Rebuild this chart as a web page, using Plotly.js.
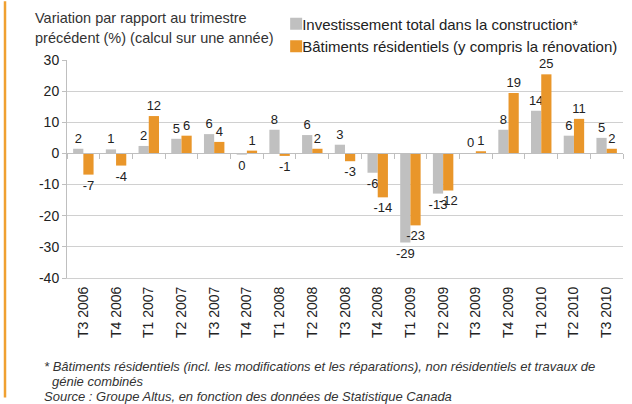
<!DOCTYPE html>
<html>
<head>
<meta charset="utf-8">
<script src="https://cdn.plot.ly/plotly-3.0.1.min.js"></script>
<style>html,body{margin:0;padding:0;background:#fff;}#chart{width:632px;height:404px;}
#chart .legendpoints{transform:translateX(14px);}</style>
</head>
<body>
<div id="chart"></div>
<script>
const categories = ['T3 2006','T4 2006','T1 2007','T2 2007','T3 2007','T4 2007','T1 2008','T2 2008','T3 2008','T4 2008','T1 2009','T2 2009','T3 2009','T4 2009','T1 2010','T2 2010','T3 2010'];
const totalInvestment = [1.5, 1.3, 2.4, 4.7, 6.2, -0.4, 7.6, 5.9, 2.8, -6.2, -28.6, -12.9, 0.1, 7.6, 13.7, 5.7, 5.0];
const residential = [-6.8, -3.9, 12.0, 5.7, 3.7, 0.9, -0.8, 1.5, -2.5, -14.1, -23.1, -11.9, 0.7, 19.4, 25.4, 11.1, 1.5];
const yTickValues = [30, 20, 10, 0, -10, -20, -30, -40];
const yTickLabels = ['30', '20', '10', '0', '-10', '-20', '-30', '-40'];
const seriesNames = ['Investissement total dans la construction*', 'Bâtiments résidentiels (y compris la rénovation)'];
const titleLines = ['Variation par rapport au trimestre', 'précédent (%) (calcul sur une année)'];
const noteLines = ['* Bâtiments résidentiels (incl. les modifications et les réparations), non résidentiels et travaux de', 'génie combinés', 'Source : Groupe Altus, en fonction des données de Statistique Canada'];

function roundLabel(v) { const r = Math.round(Math.abs(v)); return (v < 0 && r !== 0 ? '-' : '') + r; }

const labelFont = {family: 'Liberation Sans, Arial, sans-serif', size: 13, color: '#222'};
const idx = categories.map((c, i) => i);
const traces = [
  {type: 'bar', name: seriesNames[0], x: categories, y: totalInvestment,
   marker: {color: '#C0C0C0'}, text: totalInvestment.map(roundLabel), textposition: 'outside',
   textfont: labelFont, constraintext: 'none', cliponaxis: false, hoverinfo: 'x+y'},
  {type: 'bar', name: seriesNames[1], x: categories, y: residential,
   marker: {color: '#E9962A'}, text: residential.map(roundLabel), textposition: 'outside',
   textfont: labelFont, constraintext: 'none', cliponaxis: false, hoverinfo: 'x+y'},
  // empty helper trace so that the bottom label axis exists (draws no marks)
  {type: 'scatter', mode: 'markers', x: idx, y: idx.map(() => null), xaxis: 'x2', yaxis: 'y',
   showlegend: false, hoverinfo: 'skip'}
];

const titleFont = {family: 'Liberation Sans, Arial, sans-serif', size: 14.5, color: '#333'};
const noteFont = {family: 'Liberation Sans, Arial, sans-serif', size: 13, color: '#333'};
const layout = {
  width: 632, height: 404,
  margin: {l: 67, r: 9, t: 59, b: 126},
  paper_bgcolor: '#fff', plot_bgcolor: '#fff',
  barmode: 'group', bargap: 0.375, bargroupgap: 0,
  showlegend: true,
  legend: {x: 0.351, y: 1.235, xanchor: 'left', yanchor: 'top', bgcolor: 'rgba(0,0,0,0)',
           font: {family: 'Liberation Sans, Arial, sans-serif', size: 15, color: '#222'}, tracegroupgap: 0},
  xaxis: {type: 'category', anchor: 'free', position: 40/70, range: [-0.5, 16.5],
          showline: true, linecolor: '#BFBFBF', linewidth: 1,
          ticks: 'outside', tickson: 'boundaries', ticklen: 5, tickcolor: '#BFBFBF',
          showticklabels: false, showgrid: false, zeroline: false, fixedrange: true},
  xaxis2: {type: 'linear', overlaying: 'x', anchor: 'y', side: 'bottom', range: [-0.5, 16.5],
           tickmode: 'array', tickvals: idx, ticktext: categories, tickangle: -90,
           ticks: '', showgrid: false, zeroline: false, showline: true, linecolor: '#D0D0D0',
           ticklabelstandoff: 2,
           tickfont: {family: 'Liberation Sans, Arial, sans-serif', size: 14, color: '#222'}},
  yaxis: {range: [-40, 30], tickmode: 'array', tickvals: yTickValues, ticktext: yTickLabels,
          showgrid: true, gridcolor: '#D0D0D0', gridwidth: 1, zeroline: false,
          showline: true, linecolor: '#BFBFBF', ticks: 'outside', ticklen: 4, tickcolor: '#BFBFBF',
          tickfont: {family: 'Liberation Sans, Arial, sans-serif', size: 14, color: '#222'}},
  annotations: [
    {text: titleLines[0], xref: 'paper', yref: 'paper', x: -0.0612, y: (278 - 17) / 219, xanchor: 'left', yanchor: 'middle',
     align: 'left', showarrow: false, font: titleFont},
    {text: titleLines[1], xref: 'paper', yref: 'paper', x: -0.0612, y: (278 - 37) / 219, xanchor: 'left', yanchor: 'middle',
     align: 'left', showarrow: false, font: titleFont},
    {text: '<i>' + noteLines[0] + '</i>', xref: 'paper', yref: 'paper', x: -0.045, y: -0.406, xanchor: 'left', yanchor: 'middle',
     showarrow: false, font: noteFont},
    {text: '<i>' + noteLines[1] + '</i>', xref: 'paper', yref: 'paper', x: -0.0306, y: -0.475, xanchor: 'left', yanchor: 'middle',
     showarrow: false, font: noteFont},
    {text: '<i>' + noteLines[2] + '</i>', xref: 'paper', yref: 'paper', x: -0.045, y: -0.543, xanchor: 'left', yanchor: 'middle',
     showarrow: false, font: noteFont}
  ],
  shapes: [
    {type: 'line', xref: 'paper', yref: 'paper', x0: -0.1115, x1: -0.1115, y0: -0.548, y1: 1.27,
     line: {color: '#F0A030', width: 2.5}}
  ]
};

Plotly.newPlot('chart', traces, layout, {displayModeBar: false, staticPlot: true});
</script>
</body>
</html>
